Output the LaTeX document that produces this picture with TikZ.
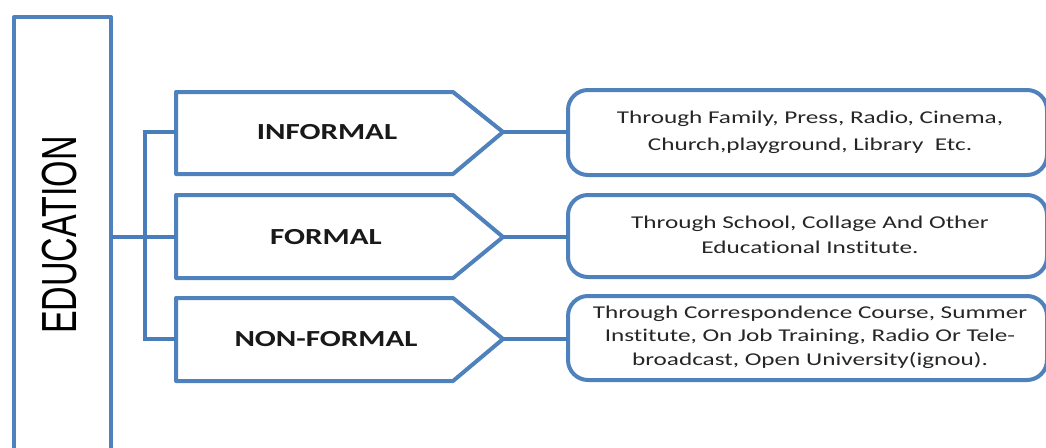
\documentclass[tikz,border=0pt]{standalone}
\usepackage{fontspec}
\setmainfont[Ligatures=NoCommon]{Carlito}
\newfontfamily\arialf{Liberation Sans}
\definecolor{boxblue}{HTML}{4F81BD}
\definecolor{linkblue}{HTML}{4A7EBB}
\begin{document}
\begin{tikzpicture}[x=1pt,y=-1pt,
  edge/.style={draw=linkblue, line width=4pt},
  frame/.style={draw=boxblue, line width=4pt, line join=round},
  lbl/.style={font=\bfseries\fontsize{23}{28}\selectfont, text=black!90, inner sep=0pt},
  desc/.style={align=center, text=black!85, inner sep=0pt}]
\useasboundingbox (0,0) rectangle (1046,447);
\fill[white] (0,0) rectangle (1046,447);

% Education box (open at the bottom, cut by the page)
\draw[frame] (14,470) -- (14,17) -- (111,17) -- (111,470);
\coordinate (eduR) at (111,237);
\node[rotate=90, inner sep=0pt, font=\arialf\fontsize{34}{40}\selectfont] (edu) at (60,235) {\scalebox{1}[1.45]{EDUCATION}};

% Pentagons
\draw[frame] (176,92) -- (453,92) -- (503,132) -- (453,174) -- (176,174) -- cycle;
\coordinate (infL) at (176,132); \coordinate (infT) at (503,132);
\node[lbl] (inf) at (327,132) {\scalebox{1.35}[1]{INFORMAL}};

\draw[frame] (176,195) -- (453,195) -- (503,237) -- (453,278) -- (176,278) -- cycle;
\coordinate (forL) at (176,237); \coordinate (forT) at (503,237);
\node[lbl] (for) at (326,237) {\scalebox{1.35}[1]{FORMAL}};

\draw[frame] (176,298) -- (453,298) -- (503,339) -- (453,381) -- (176,381) -- cycle;
\coordinate (nonL) at (176,339); \coordinate (nonT) at (503,339);
\node[lbl] (non) at (326,339) {\scalebox{1.35}[1]{NON-FORMAL}};

% Rounded description boxes
\draw[frame, rounded corners=20pt] (568,90) rectangle (1047,175);
\coordinate (d1L) at (568,132);
\node[desc, font=\fontsize{18}{27}\selectfont] (d1) at (810,132)
  {\scalebox{1.4}[1]{Through Family, Press, Radio, Cinema,}\\\scalebox{1.4}[1]{Church,playground, Library\ \ Etc.}};

\draw[frame, rounded corners=20pt] (568,195) rectangle (1047,277);
\coordinate (d2L) at (568,237);
\node[desc, font=\fontsize{18}{25}\selectfont] (d2) at (810,235)
  {\scalebox{1.4}[1]{Through School, Collage And Other}\\\scalebox{1.4}[1]{Educational Institute.}};

\draw[frame, rounded corners=20pt] (568,296) rectangle (1047,380);
\coordinate (d3L) at (568,339);
\node[desc, font=\fontsize{18}{23.5}\selectfont] (d3) at (810,337)
  {\scalebox{1.4}[1]{Through Correspondence Course, Summer}\\\scalebox{1.4}[1]{Institute, On Job Training, Radio Or Tele-}\\\scalebox{1.4}[1]{broadcast, Open University(ignou).}};

% Connectors
\coordinate (trTop) at (145,132);
\coordinate (trBot) at (145,339);
\draw[edge] (infL) -- (trTop) -- (trBot) -- (nonL);
\draw[edge] (eduR) -- (forL);
\draw[edge] (infT) -- (d1L);
\draw[edge] (forT) -- (d2L);
\draw[edge] (nonT) -- (d3L);
\end{tikzpicture}
\end{document}
